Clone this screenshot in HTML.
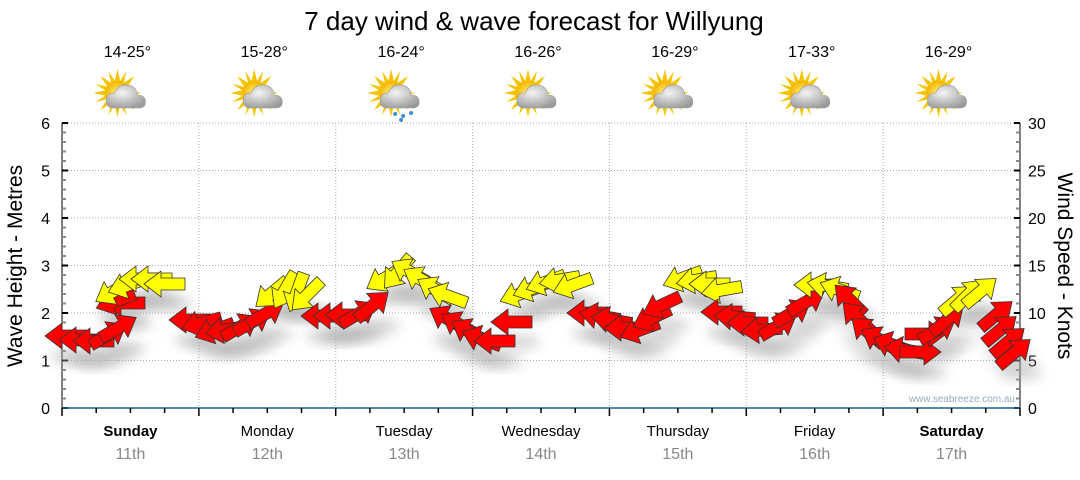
<!DOCTYPE html>
<html><head><meta charset="utf-8"><style>
body{margin:0;background:#fff;width:1080px;height:475px;overflow:hidden;font-family:"Liberation Sans",sans-serif}
</style></head><body>
<svg id="s" width="1080" height="475" xmlns="http://www.w3.org/2000/svg" font-family="Liberation Sans, sans-serif">
<defs>
<filter id="bl" x="-50%" y="-50%" width="200%" height="200%"><feGaussianBlur stdDeviation="6"/></filter>
<radialGradient id="cl" cx="40%" cy="35%" r="70%"><stop offset="0" stop-color="#f4f4f4"/><stop offset="1" stop-color="#9a9a9a"/></radialGradient>
<radialGradient id="sn" cx="50%" cy="50%" r="50%"><stop offset="0" stop-color="#fff27a"/><stop offset="1" stop-color="#f3b400"/></radialGradient>
<g id="icon">
<g fill="#f5c400">
<polygon points="0,-24 3,-11 -3,-11"/><polygon points="0,24 3,11 -3,11"/><polygon points="-24,0 -11,3 -11,-3"/><polygon points="24,0 11,3 11,-3"/>
<polygon points="-17,-17 -6,-10 -10,-6"/><polygon points="17,-17 6,-10 10,-6"/><polygon points="-17,17 -6,10 -10,6"/><polygon points="17,17 6,10 10,6"/>
<polygon points="-9,-22 -2,-11 -6,-9"/><polygon points="9,-22 2,-11 6,-9"/><polygon points="-22,-9 -11,-2 -9,-6"/><polygon points="-22,9 -11,2 -9,6"/><polygon points="-9,22 -2,11 -6,9"/><polygon points="9,22 2,11 6,9"/>
</g>
<circle r="12" fill="url(#sn)"/>
<path d="M-4,15 q-7,0 -7,-8 q0,-7 8,-7 q4,-9 13,-8 q9,1 10,10 q8,0 8,7 q0,6 -7,6 z" fill="url(#cl)" stroke="#999" stroke-width="0.6"/>
</g>
</defs>
<text x="534" y="30" font-size="26" text-anchor="middle">7 day wind &amp; wave forecast for Willyung</text>
<g id="g"></g>
<text transform="translate(22,266) rotate(-90)" font-size="21" text-anchor="middle">Wave Height - Metres</text>
<text transform="translate(1058,266) rotate(90)" font-size="21" text-anchor="middle">Wind Speed - Knots</text>
<text x="1015" y="402" font-size="10" fill="#9ab" text-anchor="end">www.seabreeze.com.au</text>
</svg>
<script>
var g=document.getElementById('g'),h='';
var X0=62,X1=1020,Y0=408,U=47.5,DW=(X1-X0)/7;
for(var i=1;i<=6;i++)h+='<line x1="'+X0+'" x2="'+X1+'" y1="'+(Y0-i*U)+'" y2="'+(Y0-i*U)+'" stroke="#aaa" stroke-dasharray="1,2"/>';
for(var d=1;d<7;d++){var x=X0+d*DW;h+='<line x1="'+x+'" x2="'+x+'" y1="123" y2="'+Y0+'" stroke="#aaa" stroke-dasharray="1,2"/>';}
h+='<line x1="'+X0+'" x2="'+X0+'" y1="123" y2="'+(Y0+8)+'" stroke="#000"/>';
h+='<line x1="'+X1+'" x2="'+X1+'" y1="123" y2="'+(Y0+8)+'" stroke="#000"/>';
for(var k=0;k<=30;k++){var y=Y0-k*U/5,big=k%5==0;
h+='<line x1="'+X0+'" x2="'+(X0+(big?6:4))+'" y1="'+y+'" y2="'+y+'" stroke="'+(big?'#000':'#888')+'" stroke-width="2"/>';
h+='<line x1="'+X1+'" x2="'+(X1-(big?6:4))+'" y1="'+y+'" y2="'+y+'" stroke="'+(big?'#000':'#888')+'" stroke-width="2"/>';
if(big){h+='<text x="50" y="'+(y+6)+'" font-size="16" text-anchor="end">'+(k/5)+'</text>';
h+='<text x="1028" y="'+(y+6)+'" font-size="16">'+k+'</text>';}}
h+='<line x1="'+X0+'" x2="'+X1+'" y1="'+Y0+'" y2="'+Y0+'" stroke="#1f5f8b" stroke-width="1.5"/>';
for(var q=0;q<=28;q++){var x=X0+q*DW/4;h+='<line x1="'+x+'" x2="'+x+'" y1="'+Y0+'" y2="'+(Y0+(q%4==0?8:5))+'" stroke="#000" stroke-width="1.5"/>';}
var days=['Sunday','Monday','Tuesday','Wednesday','Thursday','Friday','Saturday'],temps=['14-25°','15-28°','16-24°','16-26°','16-29°','17-33°','16-29°'];
for(var d=0;d<7;d++){var cx=X0+DW*(d+0.5);var b=(d==0||d==6);
h+='<text x="'+cx+'" y="436" font-size="15" text-anchor="middle"'+(b?' font-weight="bold"':'')+'>'+days[d]+'</text>';
h+='<text x="'+cx+'" y="459" font-size="16" fill="#888" text-anchor="middle">'+(11+d)+'th</text>';
var ix=X0+DW*(d+0.5)-3;
h+='<text x="'+ix+'" y="57" font-size="16" text-anchor="middle">'+temps[d]+'</text>';
h+='<use href="#icon" x="'+(ix-10)+'" y="93"/>';
if(d==2)h+='<g fill="#3a8fd8"><circle cx="'+(ix-6)+'" cy="114" r="2"/><circle cx="'+(ix+2)+'" cy="116" r="2"/><circle cx="'+(ix+10)+'" cy="113" r="2"/><circle cx="'+(ix)+'" cy="120" r="2"/></g>';}
var R='#f00',Yl='#ff0';
// x,y,rotation (0 = pointing left; 180+ = pointing right), color
var A=[
[66,336,0,R],[80,340,0,R],[94,341,0,R],[108,335,150,R],[118,328,150,R],[125,303,0,R],[116,301,-20,R],
[114,291,-30,Yl],[128,285,-20,Yl],[140,279,0,Yl],[152,279,0,Yl],[165,284,0,Yl],
[190,320,0,R],[202,323,-15,R],[215,330,-20,R],[226,330,-10,R],[240,327,150,R],[252,322,150,R],[265,314,150,R],
[272,293,-40,Yl],[285,290,-60,Yl],[297,292,-70,Yl],[307,295,-45,Yl],
[322,316,0,R],[334,316,0,R],[346,315,0,R],[358,314,150,R],[372,306,140,R],
[385,278,-30,Yl],[398,272,-50,Yl],[410,272,30,Yl],[422,280,30,Yl],[436,290,30,Yl],[448,296,20,Yl],
[448,319,30,R],[460,325,30,R],[470,332,30,R],[482,339,20,R],[495,341,0,R],[512,322,0,R],
[520,294,-20,Yl],[533,288,-20,Yl],[546,282,-20,Yl],[560,280,-10,Yl],[573,285,-20,Yl],
[588,313,0,R],[600,316,10,R],[612,320,10,R],[625,328,0,R],[640,330,-20,R],[652,318,-25,R],[662,305,-25,R],
[683,278,-20,Yl],[697,280,-10,Yl],[710,284,0,Yl],[722,290,-10,Yl],
[722,312,0,R],[735,317,5,R],[748,323,0,R],[762,330,-5,R],[778,326,150,R],[792,313,150,R],[806,302,150,R],
[815,285,0,Yl],[828,286,10,Yl],[840,290,20,Yl],
[850,300,45,R],[858,318,45,R],[868,332,40,R],[880,340,30,R],[893,345,20,R],[905,350,10,R],[920,352,180,R],
[925,334,180,R],[937,330,150,R],[947,320,140,R],
[957,300,140,Yl],[968,295,135,Yl],[980,292,140,Yl],
[996,315,140,R],[1000,330,140,R],[1008,342,140,R],[1014,353,140,R]];
var sh='',ar='';
A.forEach(function(a){var t='translate('+a[0]+','+a[1]+') rotate('+a[2]+')';
sh+='<ellipse cx="'+(a[0]+6)+'" cy="'+(a[1]+20)+'" rx="22" ry="7" fill="#aaa" opacity="0.5" filter="url(#bl)"/>';
ar+='<polygon transform="'+t+'" points="-21,0 -4,-13 -4,-6 20,-6 20,6 -4,6 -4,13" fill="'+a[3]+'" stroke="#333" stroke-width="0.8"/>';});
h+=sh+ar;
g.innerHTML=h;
</script>
</body></html>
